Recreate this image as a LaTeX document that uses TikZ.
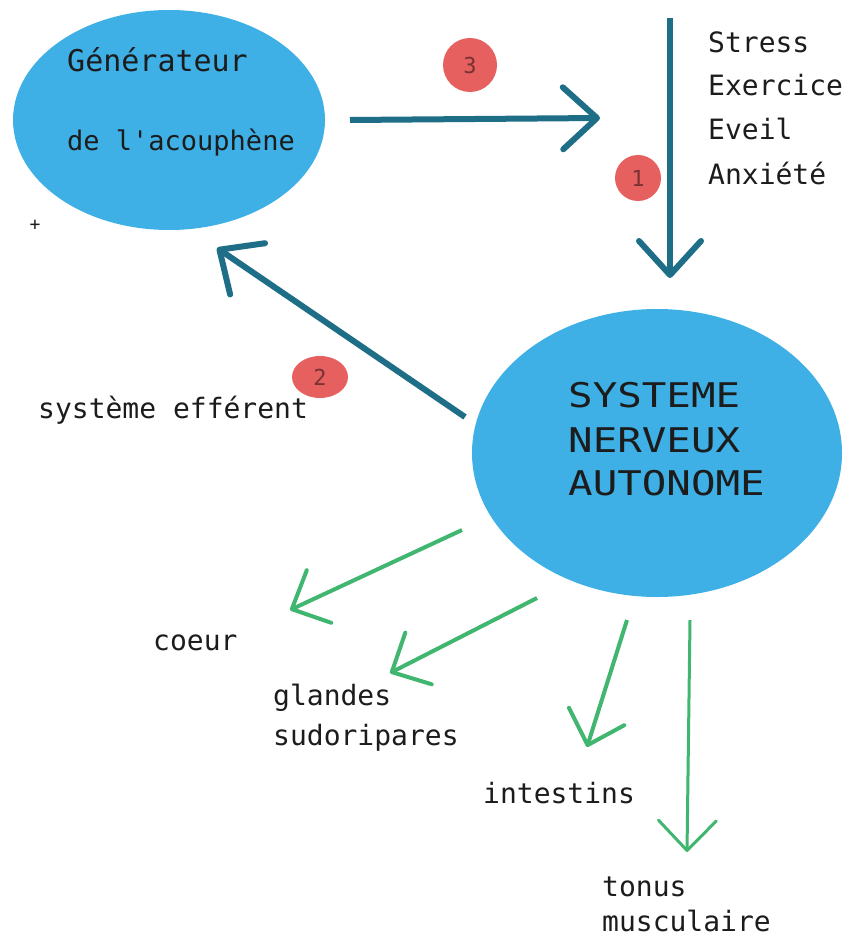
\documentclass[tikz,border=0pt]{standalone}
\usepackage{fontspec}
\usetikzlibrary{arrows.meta,shapes.geometric}
\newfontfamily\pixfont{DejaVu Sans Mono}
\newfontfamily\widefont[FakeStretch=1.2]{DejaVu Sans Mono}
\definecolor{ellblue}{RGB}{62,176,230}
\definecolor{darkteal}{RGB}{30,110,135}
\definecolor{grn}{RGB}{64,182,112}
\definecolor{badgered}{RGB}{230,96,96}
\definecolor{ink}{RGB}{28,28,28}
\definecolor{badgeink}{RGB}{120,50,50}
\begin{document}
\begin{tikzpicture}[x=1pt,y=-1pt,
  bubble/.style={ellipse, fill=ellblue, draw=none, inner sep=0},
  lbl/.style={anchor=base west, inner sep=0, text=ink, font=\pixfont\fontsize{28pt}{34pt}\selectfont},
  genlbl/.style={anchor=base west, inner sep=0, text=ink, font=\pixfont\fontsize{30pt}{36pt}\selectfont},
  capslbl/.style={anchor=base west, inner sep=0, text=ink, font=\widefont\fontsize{34pt}{40pt}\selectfont},
  badge/.style={fill=badgered, draw=none, inner sep=0, text=badgeink, font=\pixfont\fontsize{22pt}{22pt}\selectfont},
  tealarrow/.style={draw=darkteal, line width=6pt, -{Straight Barb[length=34pt,width=62pt,round]}},
  grnarrow/.style={draw=grn, line width=4pt, -{Straight Barb[length=30pt,width=58pt,round]}}
]
\useasboundingbox (0,0) rectangle (856,941);
\fill[white] (0,0) rectangle (856,941);

% ellipses
\node[bubble, minimum width=312pt, minimum height=220pt] (gen) at (169,120) {};
\node[bubble, minimum width=370pt, minimum height=288pt] (sna) at (657,453) {};

% ellipse texts
\node[genlbl] (gen1) at (67,72) {Générateur};
\node[genlbl, font=\pixfont\fontsize{27pt}{32pt}\selectfont] (gen2) at (67,151) {de l'acouphène};
\node[capslbl] (sna1) at (568,407) {SYSTEME};
\node[capslbl] (sna2) at (568,452) {NERVEUX};
\node[capslbl] (sna3) at (568,495) {AUTONOME};

% stress list
\node[lbl] (t1) at (708,53) {Stress};
\node[lbl] (t2) at (708,96) {Exercice};
\node[lbl] (t3) at (708,140) {Eveil};
\node[lbl] (t4) at (708,185) {Anxiété};

% other labels
\node[font=\pixfont\fontsize{18pt}{18pt}\selectfont, text=ink, inner sep=0] (plus) at (35,225) {+};
\node[lbl] (eff) at (38,418) {système efférent};
\node[lbl] (coeur) at (153,650) {coeur};
\node[lbl] (gl1) at (273,705) {glandes};
\node[lbl] (gl2) at (273,745) {sudoripares};
\node[lbl] (intest) at (483,803) {intestins};
\node[lbl] (ton1) at (602,896) {tonus};
\node[lbl] (ton2) at (602,931) {musculaire};

% connector end points
\coordinate (a3s) at (350,120);
\coordinate (a3e) at (600,118);
\coordinate (a1s) at (670,18);
\coordinate (a1e) at (670,278);
\coordinate (a2s) at (465,417);
\coordinate (a2e) at (217,248);
\coordinate (c1s) at (462,530);
\coordinate (c1e) at (290,610);
\coordinate (c2s) at (537,598);
\coordinate (c2e) at (390,673);
\coordinate (c3s) at (627,620);
\coordinate (c3e) at (587,747);
\coordinate (c4s) at (690,620);
\coordinate (c4e) at (687,852);

% teal arrows
\draw[tealarrow] (a3s) -- (a3e);
\draw[tealarrow] (a1s) -- (a1e);
\draw[tealarrow] (a2s) -- (a2e);

% green arrows
\draw[grnarrow] (c1s) -- (c1e);
\draw[grnarrow] (c2s) -- (c2e);
\draw[grnarrow] (c3s) -- (c3e);
\draw[grnarrow, line width=3pt] (c4s) -- (c4e);

% badges
\node[badge, circle, minimum size=54pt] (b3) at (470,65) {3};
\node[badge, circle, minimum size=46pt] (b1) at (638,178) {1};
\node[badge, ellipse, minimum width=56pt, minimum height=42pt] (b2) at (320,377) {2};
\end{tikzpicture}
\end{document}
